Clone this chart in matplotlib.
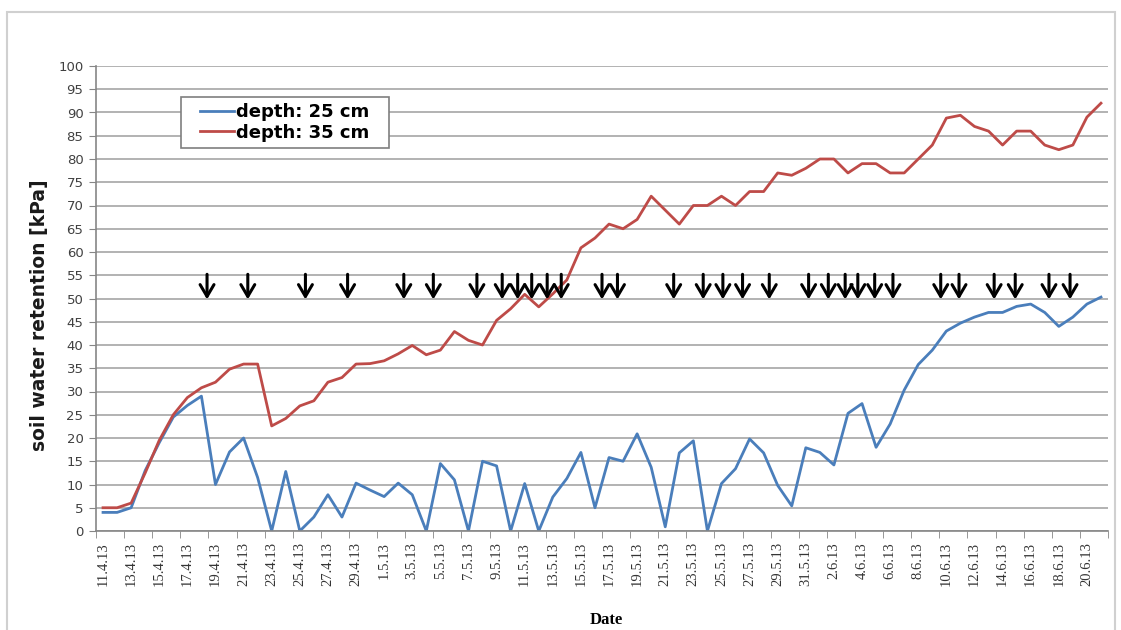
import matplotlib
matplotlib.use('Agg')
import matplotlib.pyplot as plt
import numpy as np
import pandas as pd
from matplotlib.patches import Rectangle

# one reading per day, 11.4.13 - 21.6.13
fechas = pd.date_range('2013-04-11', periods=72, freq='D')
etiquetas = [f"{d.day}.{d.month}.13" for d in fechas]

# soil water retention [kPa]
depth_25 = [4, 4, 5, 13, 19, 24.5, 27, 29, 10, 17, 20, 11.5, 0, 12.8, 0, 3,
            7.8, 3, 10.3, 8.8, 7.4, 10.3, 7.8, 0, 14.5, 11, 0, 15, 14, 0,
            10.2, 0, 7.3, 11.3, 16.9, 5, 15.8, 15, 20.9, 13.7, 0.9, 16.8, 19.4, 0,
            10.2, 13.4, 19.8, 16.8, 9.8, 5.4, 17.9, 16.9, 14.2, 25.3, 27.4, 18,
            23, 30.3, 35.8, 38.9, 43, 44.7, 46, 47, 47, 48.3, 48.8, 47, 44, 46,
            48.8, 50.3]
depth_35 = [5, 5, 6, 12.5, 19.5, 25, 28.7, 30.8, 32, 34.8, 35.9, 35.9, 22.6,
            24.2, 26.9, 28, 32, 33, 35.9, 36, 36.6, 38.1, 39.9, 37.9, 38.9,
            42.9, 41, 40, 45.3, 47.8, 50.9, 48.2, 51, 54, 60.9, 63, 66, 65, 67,
            72, 69, 66, 70, 70, 72, 70, 73, 73, 77, 76.5, 78, 80, 80, 77, 79,
            79, 77, 77, 80, 83, 88.8, 89.4, 87, 86, 83, 86, 86, 83, 82, 83, 89, 92]

# irrigation events (day index from 11.4.13)
riegos = [7.4, 10.3, 14.4, 17.4, 21.4, 23.5, 26.6, 28.4, 29.5, 30.5, 31.6,
          32.6, 35.5, 36.6, 40.6, 42.7, 44.1, 45.5, 47.4, 50.2, 51.6, 52.8,
          53.7, 54.9, 56.2, 59.6, 60.9, 63.4, 64.9, 67.3, 68.8]

fig = plt.figure(figsize=(11.21, 6.3), dpi=100)
ax = fig.add_axes([96 / 1121, 1 - 531 / 630, 1012 / 1121, 465 / 630])

x = np.arange(len(fechas))
ax.plot(x, depth_25, color='#4a7ebb', linewidth=2, label='depth: 25 cm')
ax.plot(x, depth_35, color='#be4b48', linewidth=2, label='depth: 35 cm')

for d in riegos:
    ax.annotate('', xy=(d, 49.8), xytext=(d, 55.2),
                arrowprops=dict(arrowstyle='->,head_width=0.5,head_length=0.85',
                                lw=2.2, color='black', shrinkA=0, shrinkB=0))

ax.set_xlim(-0.5, len(fechas) - 0.5)
ax.set_ylim(0, 100)
ax.set_yticks(range(0, 101, 5))
ax.grid(axis='y', color='#a6a6a6', linewidth=1.2)
ax.set_axisbelow(True)
for s in ['top', 'right']:
    ax.spines[s].set_visible(False)
for s in ['left', 'bottom']:
    ax.spines[s].set_color('#868686')
    ax.spines[s].set_linewidth(1.2)

ax.set_xticks(x[::2])
ax.set_xticklabels(etiquetas[::2], rotation=90, fontsize=10.5,
                   family='Liberation Serif', color='#333333')
ax.set_xticks(np.arange(-0.5, len(fechas), 2), minor=True)
ax.tick_params(axis='x', which='major', length=0, pad=8)
ax.tick_params(axis='x', which='minor', length=5, color='#868686')
ax.tick_params(axis='y', length=5, color='#868686', labelsize=9.5,
               labelcolor='#404040', pad=4)

# legend without its own frame, boxed separately so it gets wider side margins
ax.legend(loc='upper left', bbox_to_anchor=(0.0965, 0.933), borderaxespad=0,
          frameon=False, handlelength=1.9, handletextpad=0.1, borderpad=0.35,
          labelspacing=0.12, prop={'weight': 'bold', 'size': 13})
ax.add_patch(Rectangle((0.084, 0.824), 0.2055, 0.109, transform=ax.transAxes,
                       facecolor='white', edgecolor='#7f7f7f', linewidth=1.2,
                       zorder=4))

fig.text(40 / 1121, 1 - 315 / 630, 'soil water retention [kPa]', rotation=90,
         ha='center', va='center', fontweight='bold', fontsize=13.5, color='#1a1a1a')
fig.text(606 / 1121, 1 - 620 / 630, 'Date', ha='center', va='center',
         family='Liberation Serif', fontweight='bold', fontsize=12)

# light frame around the chart
fig.add_artist(Rectangle((7 / 1121, -0.1), 1108 / 1121, 1.1 - 12 / 630,
                         transform=fig.transFigure, fill=False,
                         edgecolor='#d0d0d0', linewidth=1.5))

fig.savefig('out.png', dpi=100)
